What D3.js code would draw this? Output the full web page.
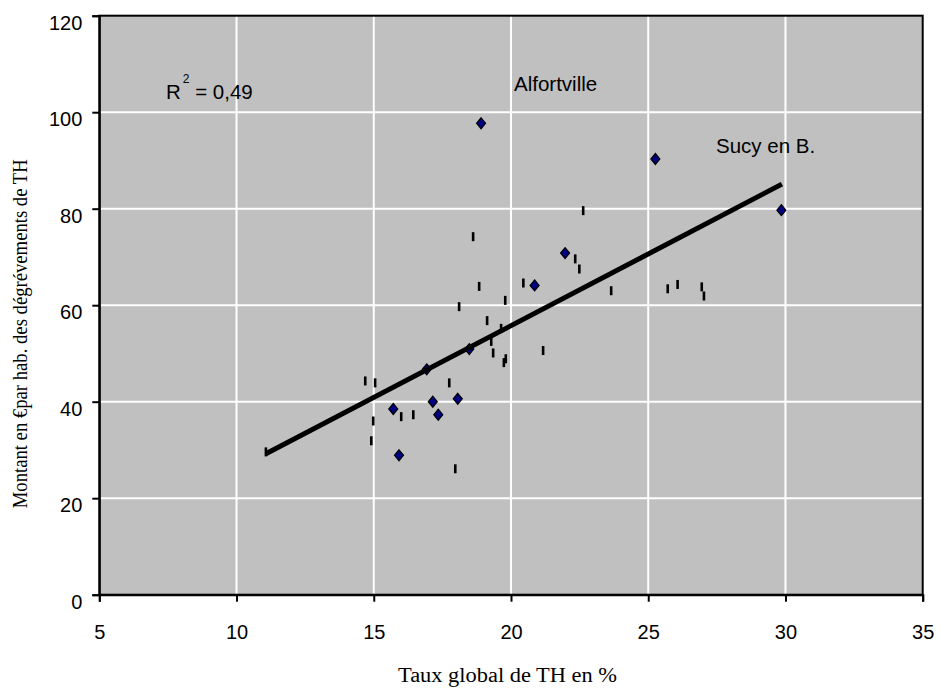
<!DOCTYPE html>
<html><head><meta charset="utf-8">
<script src="https://cdn.jsdelivr.net/npm/d3@7"></script>
<style>body{margin:0;background:#fff}</style>
</head><body>
<svg id="c" width="940" height="689"></svg>
<script>
const xTicks = [5, 10, 15, 20, 25, 30, 35];
const yTicks = [0, 20, 40, 60, 80, 100, 120];
// communes highlighted (diamonds)
const communesX = [18.91, 25.26, 29.85, 21.97, 20.86, 18.48, 16.93, 15.71, 17.15, 18.06, 17.35, 15.92];
const communesY = [97.7, 90.3, 79.7, 70.8, 64.1, 50.9, 46.7, 38.5, 40.0, 40.6, 37.3, 28.9];
// other communes (dash markers)
const autresX = [14.69, 15.05, 14.98, 14.91, 16.00, 16.44, 17.75, 17.97, 19.28, 19.35, 19.74, 19.81, 22.63, 18.62, 22.34, 22.49, 20.45, 18.84, 23.65, 19.79, 18.11, 19.13, 19.64, 21.17, 25.71, 26.07, 26.95, 27.03, 11.07];
const autresY = [44.3, 43.9, 36.0, 31.9, 36.9, 37.3, 43.9, 26.1, 52.5, 50.1, 48.1, 48.9, 79.6, 74.2, 69.6, 67.5, 64.6, 63.9, 63.0, 61.0, 59.7, 56.8, 55.2, 50.6, 63.4, 64.3, 63.8, 61.9, 29.6];
// linear trend
const trendSlope = 2.973;
const trendIntercept = -3.71;
const trendRange = [11.07, 29.87];
const r2Text = "0,49";
const annotations = ["Alfortville", "Sucy en B."];

const svg = d3.select("#c");
const L = 99.3, R = 922.7, T = 15.7, B = 594.7;
const x = d3.scaleLinear().domain([5, 35]).range([L, R]);
const y = d3.scaleLinear().domain([0, 120]).range([B, T]);

svg.append("rect").attr("x", L).attr("y", T).attr("width", R - L).attr("height", B - T).attr("fill", "#c0c0c0");

// gridlines
svg.append("g").selectAll("line").data(xTicks.slice(1, -1)).join("line")
  .attr("x1", d => x(d)).attr("x2", d => x(d)).attr("y1", T).attr("y2", B)
  .attr("stroke", "#fff").attr("stroke-width", 2);
svg.append("g").selectAll("line").data(yTicks.slice(1, -1)).join("line")
  .attr("y1", d => y(d)).attr("y2", d => y(d)).attr("x1", L).attr("x2", R)
  .attr("stroke", "#fff").attr("stroke-width", 2);

// dash markers
svg.append("g").selectAll("rect").data(autresX.map((v, i) => [v, autresY[i]])).join("rect")
  .attr("x", d => x(d[0]) - 1.3).attr("y", d => y(d[1]) - 4.5)
  .attr("width", 2.6).attr("height", 9).attr("fill", "#000");

// diamonds
svg.append("g").selectAll("path").data(communesX.map((v, i) => [v, communesY[i]])).join("path")
  .attr("d", d => { const cx = x(d[0]), cy = y(d[1]); return `M${cx},${cy - 5.5}L${cx + 4.5},${cy}L${cx},${cy + 5.5}L${cx - 4.5},${cy}Z`; })
  .attr("fill", "#000080").attr("stroke", "#000").attr("stroke-width", 1.2);

// trend line
svg.append("line")
  .attr("x1", x(trendRange[0])).attr("y1", y(trendSlope * trendRange[0] + trendIntercept))
  .attr("x2", x(trendRange[1])).attr("y2", y(trendSlope * trendRange[1] + trendIntercept))
  .attr("stroke", "#000").attr("stroke-width", 5);

// border
svg.append("rect").attr("x", L).attr("y", T).attr("width", R - L).attr("height", B - T)
  .attr("fill", "none").attr("stroke", "#000").attr("stroke-width", 2);

// axes
const ax = svg.append("g").attr("transform", `translate(0,${B})`)
  .call(d3.axisBottom(x).tickValues(xTicks).tickSize(7).tickPadding(0).tickFormat(d3.format("d")));
ax.select(".domain").attr("stroke", "#000").attr("stroke-width", 2);
ax.selectAll(".tick line").attr("stroke", "#000").attr("stroke-width", 2);
ax.selectAll(".tick text").attr("y", 44.6).attr("dy", null)
  .attr("font-family", "Arial, 'Liberation Sans', sans-serif").attr("font-size", 20).attr("fill", "#000");

const ay = svg.append("g").attr("transform", `translate(${L},0)`)
  .call(d3.axisLeft(y).tickValues(yTicks).tickSize(7).tickPadding(0).tickFormat(d3.format("d")));
ay.select(".domain").attr("stroke", "#000").attr("stroke-width", 2);
ay.selectAll(".tick line").attr("stroke", "#000").attr("stroke-width", 2);
ay.selectAll(".tick text").attr("x", -17).attr("dy", null).attr("y", 13.5)
  .attr("font-family", "Arial, 'Liberation Sans', sans-serif").attr("font-size", 20).attr("fill", "#000");

// annotations
const sans = "Arial, 'Liberation Sans', sans-serif";
svg.append("text").attr("x", 514).attr("y", 91).attr("font-family", sans).attr("font-size", 20.5).text(annotations[0]);
svg.append("text").attr("x", 716).attr("y", 153).attr("font-family", sans).attr("font-size", 20.5).text(annotations[1]);
const r2 = svg.append("text").attr("x", 166).attr("y", 99).attr("font-family", sans).attr("font-size", 20.5);
r2.append("tspan").text("R");
r2.append("tspan").attr("font-size", 12).attr("dy", -16).attr("dx", 2).text("2");
r2.append("tspan").attr("dy", 16).text(" = " + r2Text);

// axis titles
const serif = "'Times New Roman', 'Liberation Serif', serif";
svg.append("text").attr("x", 507.5).attr("y", 682).attr("text-anchor", "middle")
  .attr("font-family", serif).attr("font-size", 20)
  .attr("textLength", 219).attr("lengthAdjust", "spacingAndGlyphs")
  .text("Taux global de TH en %");
svg.append("text").attr("transform", "translate(26.7,333.8) rotate(-90)").attr("text-anchor", "middle")
  .attr("font-family", serif).attr("font-size", 20)
  .attr("textLength", 349).attr("lengthAdjust", "spacingAndGlyphs")
  .text("Montant en €par hab. des dégrévements de TH");
</script>
</body></html>
